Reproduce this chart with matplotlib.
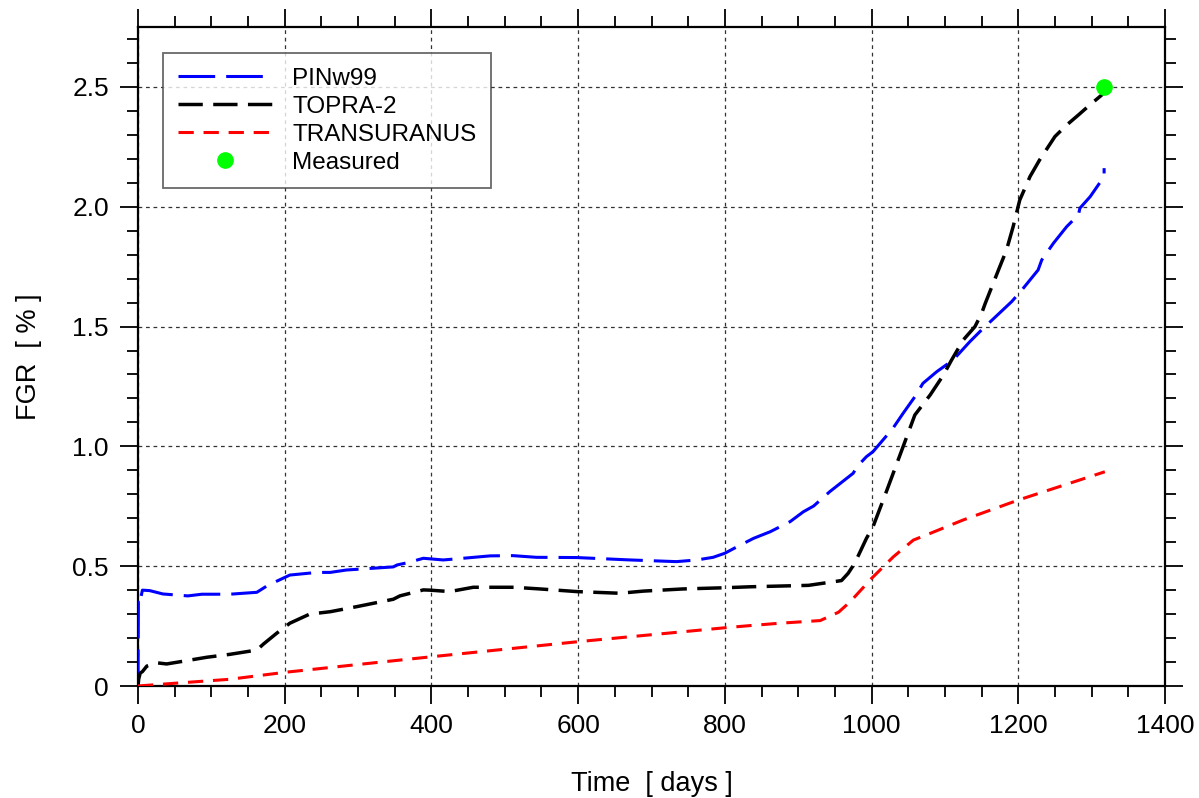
import matplotlib
matplotlib.use("Agg")
import matplotlib.pyplot as plt
from matplotlib.ticker import MultipleLocator

plt.rcParams['font.family'] = ['Liberation Sans', 'DejaVu Sans']

# PINw99 calculation
pin_days = [0, 0.5, 2, 6, 16, 34, 68, 87, 125, 162, 177, 207, 244, 262, 284, 348, 353,
            368, 389, 416, 432, 480, 511, 543, 598, 671, 734, 762, 784, 800, 816, 839,
            862, 889, 907, 921, 943, 975, 980, 993, 1002, 1029, 1043, 1059, 1070, 1089,
            1111, 1134, 1150, 1191, 1205, 1227, 1232, 1248, 1266, 1282, 1284, 1298,
            1317, 1317]
pin_fgr = [0, 0.35, 0.34, 0.40, 0.398, 0.384, 0.376, 0.383, 0.383, 0.391, 0.42, 0.463,
           0.474, 0.474, 0.484, 0.497, 0.505, 0.515, 0.533, 0.526, 0.53, 0.543, 0.544,
           0.537, 0.536, 0.526, 0.519, 0.526, 0.537, 0.554, 0.58, 0.616, 0.644, 0.686,
           0.727, 0.751, 0.811, 0.888, 0.915, 0.957, 0.978, 1.075, 1.138, 1.207, 1.263,
           1.312, 1.36, 1.437, 1.486, 1.604, 1.653, 1.736, 1.778, 1.848, 1.917, 1.966,
           1.994, 2.042, 2.126, 2.161]

# TOPRA-2 calculation
topra_days = [0, 1, 3, 6, 12, 25, 39, 57, 94, 125, 162, 171, 189, 207, 234, 262, 298,
              348, 357, 389, 398, 425, 457, 512, 548, 598, 657, 689, 743, 800, 834, 914,
              959, 968, 977, 993, 1002, 1021, 1043, 1059, 1080, 1098, 1109, 1125, 1141,
              1150, 1155, 1173, 1184, 1193, 1202, 1216, 1229, 1250, 1266, 1282, 1295,
              1314, 1317]
topra_fgr = [0, 0.03, 0.054, 0.06, 0.083, 0.097, 0.092, 0.101, 0.12, 0.132, 0.15, 0.175,
             0.22, 0.262, 0.30, 0.31, 0.331, 0.362, 0.376, 0.401, 0.40, 0.394, 0.412,
             0.412, 0.405, 0.394, 0.387, 0.396, 0.405, 0.41, 0.414, 0.42, 0.44, 0.47,
             0.512, 0.616, 0.665, 0.818, 0.999, 1.131, 1.215, 1.298, 1.36, 1.444, 1.5,
             1.555, 1.597, 1.736, 1.82, 1.917, 2.028, 2.126, 2.195, 2.293, 2.341, 2.383,
             2.418, 2.467, 2.485]

# TRANSURANUS calculation
trans_days = [0, 48, 125, 200, 307, 400, 600, 800, 834, 875, 930, 955, 971, 1000, 1030,
              1057, 1080, 1125, 1200, 1270, 1318]
trans_fgr = [0, 0.011, 0.028, 0.057, 0.092, 0.122, 0.185, 0.243, 0.252, 0.262, 0.273,
             0.308, 0.352, 0.449, 0.54, 0.609, 0.637, 0.693, 0.776, 0.846, 0.894]

# Post-irradiation measurement
meas_days = [1317]
meas_fgr = [2.5]

x_ticks = [0, 200, 400, 600, 800, 1000, 1200, 1400]
y_ticks = [0, 0.5, 1.0, 1.5, 2.0, 2.5]
y_tick_labels = ["0", "0.5", "1.0", "1.5", "2.0", "2.5"]

fig = plt.figure(figsize=(11.99, 7.98), dpi=100)
ax = fig.add_axes([138 / 1199, 1 - 686 / 798, (1165 - 138) / 1199, (686 - 27) / 798])

ax.plot(pin_days, pin_fgr, color='#0000ff', lw=2.2, linestyle=(0, (12, 3.6)),
        label='PINw99', zorder=3)
ax.plot(topra_days, topra_fgr, color='black', lw=2.5, linestyle=(0, (7, 3)),
        label='TOPRA-2', zorder=3)
ax.plot(trans_days, trans_fgr, color='#ff0000', lw=2.2, linestyle=(0, (5, 3.2)),
        label='TRANSURANUS', zorder=3)
ax.plot(meas_days, meas_fgr, 'o', color='#00ff00', ms=11, mec='#00ff00',
        label='Measured', zorder=4, clip_on=False)

ax.set_xlim(0, 1400)
ax.set_ylim(0, 2.75)
ax.set_xticks(x_ticks)
ax.set_yticks(y_ticks)
ax.set_yticklabels(y_tick_labels)
ax.xaxis.set_minor_locator(MultipleLocator(50))
ax.yaxis.set_minor_locator(MultipleLocator(0.1))

ax.tick_params(which='both', direction='out', top=True, right=True,
               labeltop=False, labelright=False, width=1.3, color='black',
               labelsize=19)
ax.tick_params(which='major', length=13, pad=7)
ax.tick_params(which='minor', length=8)
ax.tick_params(axis='y', which='major', pad=8)

for s in ax.spines.values():
    s.set_linewidth(1.6)

ax.grid(True, which='major', color='#333333', linestyle=(0, (3, 3)), lw=0.9)
ax.set_axisbelow(True)

ax.set_xlabel("Time  [ days ]", fontsize=19.5, labelpad=24)
ax.set_ylabel("FGR  [ % ]", fontsize=19.5, labelpad=22)

leg = ax.legend(loc='upper left', bbox_to_anchor=((163 - 138) / 1027, 1 - (53 - 27) / 659),
                fontsize=17.5, frameon=True, fancybox=False, handlelength=3.9,
                handletextpad=0.82, labelspacing=0.25, borderpad=0.6,
                borderaxespad=0, markerscale=1.0, numpoints=1)
leg.get_frame().set_edgecolor('#444444')
leg.get_frame().set_linewidth(1.3)

fig.savefig("out.png", dpi=100)
